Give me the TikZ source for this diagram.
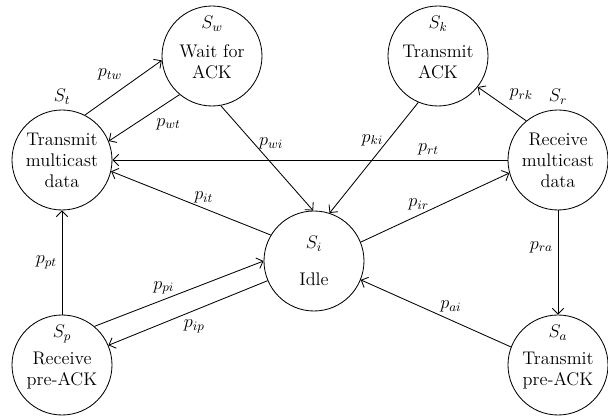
\RequirePackage{fix-cm}
\documentclass[tikz,border=0pt]{standalone}
\usepackage{tikz}
\usetikzlibrary{arrows.meta}

\begin{document}
\begin{tikzpicture}[stnode/.style={draw,circle,minimum size=2.5cm,inner sep=0pt,align=center},
  instate/.style={label={[anchor=north,yshift=-4pt]north:#1}},
  trans/.style={-{Straight Barb[length=4pt,width=8pt]}},
  line width=0.6pt,font=\fontsize{13}{15}\selectfont]
\useasboundingbox (0,0) rectangle (15.2,10.475);
\draw (1.55,6.475) node[stnode,label=above:$S_t$](ST){Transmit\\multicast\\data}
  (5.3,9.075) node[stnode,instate=$S_w$](SW){\\[2pt]Wait for\\ACK}
  (10.95,9.075) node[stnode,instate=$S_k$](SK){\\[2pt]Transmit\\ACK}
  (13.95,6.475) node[stnode,label=above:$S_r$](SR){Receive\\multicast\\data}
  (7.85,3.95) node[stnode](SI){$S_i$\\[11pt]Idle}
  (1.55,1.35) node[stnode,instate=$S_p$](SP){\\[2pt]Receive\\pre-ACK}
  (13.95,1.35) node[stnode,instate=$S_a$](SA){\\[2pt]Transmit\\pre-ACK};
\draw[trans] (ST.63) -- node[pos=.55,above left]{$p_{tw}$} (SW.185);
\draw[trans] (SW.230) -- node[pos=.4,below right]{$p_{wt}$} (ST.22);
\draw[trans] (SW.280) -- node[pos=.36,right]{$p_{wi}$} (SI.91);
\draw[trans] (SK.247) -- node[pos=.34,left]{$p_{ki}$} (SI.72);
\draw[trans] (SR.129) -- node[pos=.45,above right]{$p_{rk}$} (SK.322);
\draw[trans] (SR.west) -- node[pos=.2,above]{$p_{rt}$} (ST.east);
\draw[trans] (SI.149) -- node[pos=.42,above]{$p_{it}$} (ST.347);
\draw[trans] (SI.22) -- node[pos=.39,above]{$p_{ir}$} (SR.195);
\draw[trans] (SR.south) -- node[pos=.35,left]{$p_{ra}$} (SA.north);
\draw[trans] (SA.159) -- node[pos=.4,above=2pt]{$p_{ai}$} (SI.338);
\draw[trans] (SP.50) -- node[pos=.41,above]{$p_{pi}$} (SI.180);
\draw[trans] (SI.203) -- node[pos=.46,below=3pt]{$p_{ip}$} (SP.23);
\draw[trans] (SP.north) -- node[left]{$p_{pt}$} (ST.south);
\end{tikzpicture}
\end{document}
